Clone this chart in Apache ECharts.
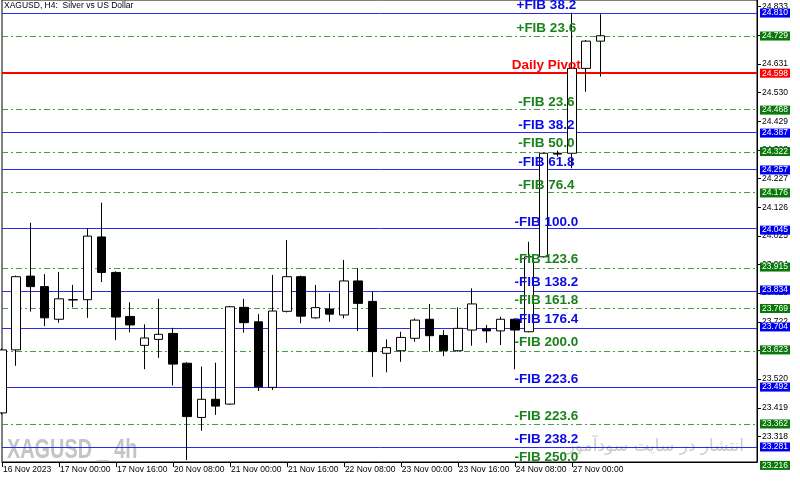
<!DOCTYPE html>
<html>
<head>
<meta charset="utf-8">
<title>XAGUSD H4</title>
<script src="https://cdn.jsdelivr.net/npm/echarts@6/dist/echarts.min.js"></script>
<style>
  html, body { margin: 0; padding: 0; background: #fff; }
  #chart { width: 800px; height: 484px; }
</style>
</head>
<body>
<div id="chart"></div>
<script>
// H4 bars, 16 Nov 2023 08:00 .. 27 Nov 2023 08:00
const categories = [
  '16 Nov 2023', '16 Nov 12:00', '16 Nov 16:00', '16 Nov 20:00',
  '17 Nov 00:00', '17 Nov 04:00', '17 Nov 08:00', '17 Nov 12:00',
  '17 Nov 16:00', '17 Nov 20:00', '20 Nov 00:00', '20 Nov 04:00',
  '20 Nov 08:00', '20 Nov 12:00', '20 Nov 16:00', '20 Nov 20:00',
  '21 Nov 00:00', '21 Nov 04:00', '21 Nov 08:00', '21 Nov 12:00',
  '21 Nov 16:00', '21 Nov 20:00', '22 Nov 00:00', '22 Nov 04:00',
  '22 Nov 08:00', '22 Nov 12:00', '22 Nov 16:00', '22 Nov 20:00',
  '23 Nov 00:00', '23 Nov 04:00', '23 Nov 08:00', '23 Nov 12:00',
  '23 Nov 16:00', '23 Nov 20:00', '24 Nov 00:00', '24 Nov 04:00',
  '24 Nov 08:00', '24 Nov 12:00', '24 Nov 16:00', '24 Nov 20:00',
  '27 Nov 00:00', '27 Nov 04:00', '27 Nov 08:00'
]
const emptyBars = 11

const opens = [
  23.401, 23.623, 23.883, 23.846, 23.731, 23.800, 23.800, 24.021, 23.896, 23.741,
  23.639, 23.660, 23.681, 23.576, 23.385, 23.449, 23.432, 23.773, 23.722, 23.491,
  23.759, 23.881, 23.736, 23.767, 23.746, 23.866, 23.794, 23.611, 23.620, 23.664,
  23.731, 23.674, 23.620, 23.693, 23.697, 23.690, 23.731, 23.687, 23.951, 24.316,
  24.316, 24.615, 24.711
]
const closes = [
  23.623, 23.881, 23.846, 23.736, 23.803, 23.799, 24.024, 23.896, 23.739, 23.711,
  23.665, 23.678, 23.573, 23.388, 23.449, 23.425, 23.775, 23.719, 23.493, 23.760,
  23.881, 23.742, 23.772, 23.749, 23.866, 23.787, 23.617, 23.631, 23.667, 23.728,
  23.673, 23.620, 23.699, 23.785, 23.690, 23.731, 23.693, 23.951, 24.316, 24.313,
  24.615, 24.711, 24.730
]
const lows = [
  23.395, 23.567, 23.758, 23.707, 23.719, 23.773, 23.736, 23.862, 23.658, 23.685,
  23.555, 23.595, 23.498, 23.235, 23.338, 23.394, 23.430, 23.684, 23.478, 23.482,
  23.755, 23.717, 23.733, 23.722, 23.734, 23.690, 23.528, 23.544, 23.581, 23.652,
  23.617, 23.601, 23.617, 23.638, 23.648, 23.640, 23.555, 23.685, 23.949, 24.304,
  24.263, 24.533, 24.586
]
const highs = [
  23.628, 23.885, 24.071, 23.890, 23.898, 23.852, 24.051, 24.142, 23.900, 23.791,
  23.713, 23.803, 23.701, 23.580, 23.564, 23.578, 23.778, 23.803, 23.749, 23.887,
  24.010, 23.885, 23.852, 23.822, 23.940, 23.910, 23.827, 23.660, 23.687, 23.734,
  23.785, 23.693, 23.773, 23.840, 23.711, 23.740, 23.734, 24.004, 24.318, 24.325,
  24.811, 24.715, 24.806
]

// pivot / fibonacci levels
const levelValues = [
  24.810, 24.729, 24.598, 24.468, 24.387, 24.322, 24.257, 24.176, 24.045,
  23.915, 23.834, 23.769, 23.704, 23.623, 23.492, 23.362, 23.281, 23.216
]
const levelNames = [
  '+FIB 38.2', '+FIB 23.6', 'Daily Pivot', '-FIB 23.6', '-FIB 38.2', '-FIB 50.0',
  '-FIB 61.8', '-FIB 76.4', '-FIB 100.0', '-FIB 123.6', '-FIB 138.2', '-FIB 161.8',
  '-FIB 176.4', '-FIB 200.0', '-FIB 223.6', '-FIB 223.6', '-FIB 238.2', '-FIB 250.0'
]
const levelKinds = ['b', 'g', 'r', 'g', 'b', 'g', 'b', 'g', 'b', 'g', 'b', 'g', 'b', 'g', 'b', 'g', 'b', 'g']

// price scale tick labels
const yTicks = [
  24.833, 24.732, 24.631, 24.530, 24.429, 24.328, 24.227, 24.126, 24.025,
  23.924, 23.823, 23.722, 23.621, 23.520, 23.419, 23.318
]
const yMin = 23.228
const yMax = 24.856

const labelBar = 38
const boxBar = categories.length + emptyBars - 1

const kindStyle = {
  b: { line: { color: '#2a2af2', width: 1, type: 'solid' }, text: '#0a0ae6', box: '#0000f0' },
  g: { line: { color: '#3f9f3f', width: 1, type: [6, 3, 2, 3] }, text: '#1a821a', box: '#087808' },
  r: { line: { color: '#ff0000', width: 2, type: 'solid' }, text: '#ff0000', box: '#ff0000' }
}

const fontUi = 'Liberation Sans, Arial, sans-serif'

const chart = echarts.init(document.getElementById('chart'))

const xData = categories.concat(new Array(emptyBars).fill(''))
const candles = opens.map((o, i) => [o, closes[i], lows[i], highs[i]])
const showEvery4 = (index, value) => index % 4 === 0 && value !== ''

chart.setOption({
  animation: false,
  backgroundColor: '#fff',
  title: {
    text: 'XAGUSD, H4:  Silver vs US Dollar',
    left: 4,
    top: 1,
    padding: 0,
    textStyle: { fontSize: 8.5, fontWeight: 'normal', color: '#000', fontFamily: fontUi }
  },
  graphic: [
    {
      type: 'text',
      x: 7,
      y: 436,
      scaleX: 0.71,
      style: {
        text: 'XAGUSD _ 4h',
        fill: '#c4c4c4',
        font: 'bold 28px "Liberation Sans", sans-serif'
      }
    },
    {
      type: 'text',
      right: 56,
      top: 438,
      style: {
        text: 'انتشار در سایت سودآموز',
        fill: '#cccccc',
        font: '17px "DejaVu Sans", sans-serif'
      }
    }
  ],
  grid: {
    left: 2,
    right: 43,
    top: 0,
    bottom: 22,
    show: true,
    borderColor: '#000',
    borderWidth: 1
  },
  xAxis: {
    type: 'category',
    data: xData,
    boundaryGap: false,
    axisLine: { lineStyle: { color: '#000' } },
    axisTick: { interval: showEvery4, length: 5, lineStyle: { color: '#000' } },
    axisLabel: {
      interval: showEvery4,
      align: 'left',
      margin: 3,
      padding: [0, 0, 0, 1],
      fontSize: 8.5,
      color: '#000',
      fontFamily: fontUi
    },
    splitLine: { show: false }
  },
  yAxis: {
    type: 'value',
    position: 'right',
    min: yMin,
    max: yMax,
    axisLine: { show: true, lineStyle: { color: '#000' } },
    axisTick: { show: true, length: 4, customValues: yTicks, lineStyle: { color: '#000' } },
    axisLabel: {
      customValues: yTicks,
      margin: 5,
      fontSize: 8.5,
      color: '#000',
      fontFamily: fontUi,
      formatter: v => v.toFixed(3)
    },
    splitLine: { show: false }
  },
  series: [
    {
      // level lines, drawn behind the candles
      type: 'line',
      data: [],
      z: 1,
      markLine: {
        silent: true,
        symbol: 'none',
        z: 1,
        label: { show: false },
        data: levelValues
          .map((v, i) => ({ yAxis: v, lineStyle: kindStyle[levelKinds[i]].line }))
          .filter(d => d.yAxis >= yMin && d.yAxis <= yMax)
      }
    },
    {
      type: 'candlestick',
      data: candles,
      barWidth: 9,
      z: 2,
      itemStyle: {
        color: '#ffffff',
        color0: '#000000',
        borderColor: '#000000',
        borderColor0: '#000000',
        borderWidth: 1
      }
    },
    {
      // level names inside the chart
      type: 'scatter',
      symbolSize: 0,
      clip: false,
      silent: true,
      z: 10,
      itemStyle: { opacity: 1 },
      data: levelValues.map((v, i) => ({
        value: [labelBar, v],
        name: levelNames[i],
        label: { color: kindStyle[levelKinds[i]].text }
      })),
      label: {
        show: true,
        position: 'top',
        distance: 1,
        offset: [3, 0],
        formatter: p => p.name,
        fontSize: 13.5,
        fontWeight: 'bold',
        fontFamily: fontUi
      }
    },
    {
      // price boxes on the scale
      type: 'scatter',
      symbolSize: 0,
      clip: false,
      silent: true,
      z: 10,
      itemStyle: { opacity: 1 },
      data: levelValues.map((v, i) => ({
        value: [boxBar, v],
        label: { backgroundColor: kindStyle[levelKinds[i]].box }
      })),
      label: {
        show: true,
        position: 'right',
        distance: 3,
        formatter: p => p.value[1].toFixed(3),
        color: '#fff',
        fontSize: 8.5,
        lineHeight: 9,
        padding: [0, 2, 0, 2],
        fontFamily: fontUi
      }
    }
  ]
})
</script>
</body>
</html>
